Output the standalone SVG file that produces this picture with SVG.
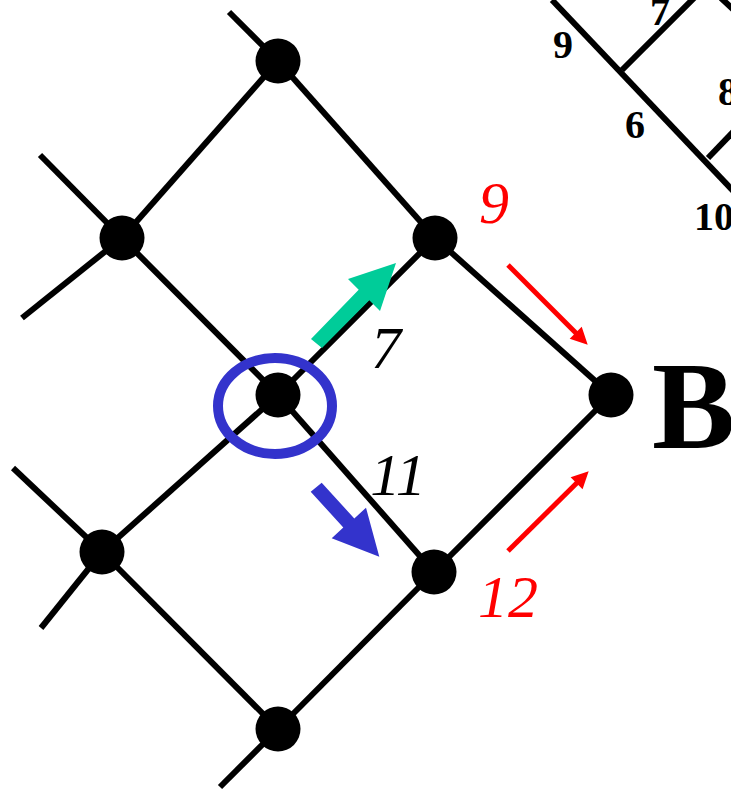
<svg xmlns="http://www.w3.org/2000/svg" width="731" height="791" viewBox="0 0 731 791">
<defs>
<style>
.edge{stroke:#000;stroke-width:6;fill:none;stroke-linecap:butt}
.dot{fill:#000}
.bl{font-family:"Liberation Serif","Times New Roman",serif;font-weight:bold;font-size:40px;fill:#000}
.it{font-family:"Liberation Serif","Times New Roman",serif;font-style:italic;font-size:60px;text-anchor:middle}
.red{stroke:#ff0000;stroke-width:5;fill:none}
</style>
<marker id="rh" markerUnits="userSpaceOnUse" markerWidth="18" markerHeight="18" viewBox="-2 -9 18 18" refX="0" refY="0" orient="auto" overflow="visible">
<path d="M-1,-8.5 L16,0 L-1,8.5 z" fill="#ff0000"/>
</marker>
</defs>
<rect width="731" height="791" fill="#fff"/>
<g id="connectors">
<line class="edge" x1="229" y1="12" x2="278" y2="61"/>
<line class="edge" x1="278" y1="61" x2="122" y2="238"/>
<line class="edge" x1="278" y1="61" x2="435" y2="238"/>
<line class="edge" x1="40" y1="155" x2="122" y2="238"/>
<line class="edge" x1="22" y1="318" x2="122" y2="238"/>
<line class="edge" x1="122" y1="238" x2="278" y2="395"/>
<line class="edge" x1="435" y1="238" x2="278" y2="395"/>
<line class="edge" x1="435" y1="238" x2="611" y2="395"/>
<line class="edge" x1="278" y1="395" x2="102" y2="552"/>
<line class="edge" x1="278" y1="395" x2="434" y2="572"/>
<line class="edge" x1="434" y1="572" x2="611" y2="395"/>
<line class="edge" x1="13" y1="468" x2="102" y2="552"/>
<line class="edge" x1="41" y1="628" x2="102" y2="552"/>
<line class="edge" x1="102" y1="552" x2="278" y2="729"/>
<line class="edge" x1="434" y1="572" x2="278" y2="729"/>
<line class="edge" x1="278" y1="729" x2="220" y2="787"/>
<line class="edge" x1="552" y1="0" x2="740" y2="198"/>
<line class="edge" x1="622" y1="70" x2="697" y2="-5"/>
<line class="edge" x1="708" y1="158" x2="735" y2="130"/>
<line class="edge" x1="721" y1="-2" x2="735" y2="11"/>
</g>
<g id="node-top"><circle class="dot" cx="278" cy="61" r="22.5"/></g>
<g id="node-left-upper"><circle class="dot" cx="122" cy="238" r="22.5"/></g>
<g id="node-right-upper"><circle class="dot" cx="435" cy="238" r="22.5"/></g>
<g id="node-center"><circle class="dot" cx="278" cy="395" r="22.5"/></g>
<g id="node-B"><circle class="dot" cx="611" cy="395" r="22.5"/><text x="652" y="448" style="font-family:'Liberation Serif','Times New Roman',serif;font-weight:bold;font-size:125px">B</text></g>
<g id="node-left-lower"><circle class="dot" cx="102" cy="552" r="22.5"/></g>
<g id="node-right-lower"><circle class="dot" cx="434" cy="572" r="22.5"/></g>
<g id="node-bottom"><circle class="dot" cx="278" cy="729" r="22.5"/></g>
<g id="highlight">
<ellipse cx="275" cy="406" rx="57" ry="48" fill="none" stroke="#3333cc" stroke-width="10"/>
<polygon points="311,339 358.7,289.7 348,279 396,263 380,311 369.3,300.3 322,348" fill="#00cc99"/>
<polygon points="310.7,491.7 343.3,527.5 331.7,538.3 379.3,556.7 366,507.7 354.3,518.5 321.7,482.7" fill="#3333cc"/>
<line class="red" x1="508" y1="265" x2="576.4" y2="333.4" marker-end="url(#rh)"/>
<line class="red" x1="508" y1="551" x2="577.3" y2="482.5" marker-end="url(#rh)"/>
</g>
<g id="labels">
<text class="it" x="494" y="223" fill="#ff0000">9</text>
<text class="it" x="386" y="368" fill="#000">7</text>
<text class="it" x="398" y="495" fill="#000">11</text>
<text class="it" x="508" y="617" fill="#ff0000">12</text>
<text class="bl" x="553" y="58">9</text>
<text class="bl" x="650" y="25">7</text>
<text class="bl" x="718" y="105">8</text>
<text class="bl" x="625" y="138">6</text>
<text class="bl" x="694" y="230">10</text>
</g>
</svg>
